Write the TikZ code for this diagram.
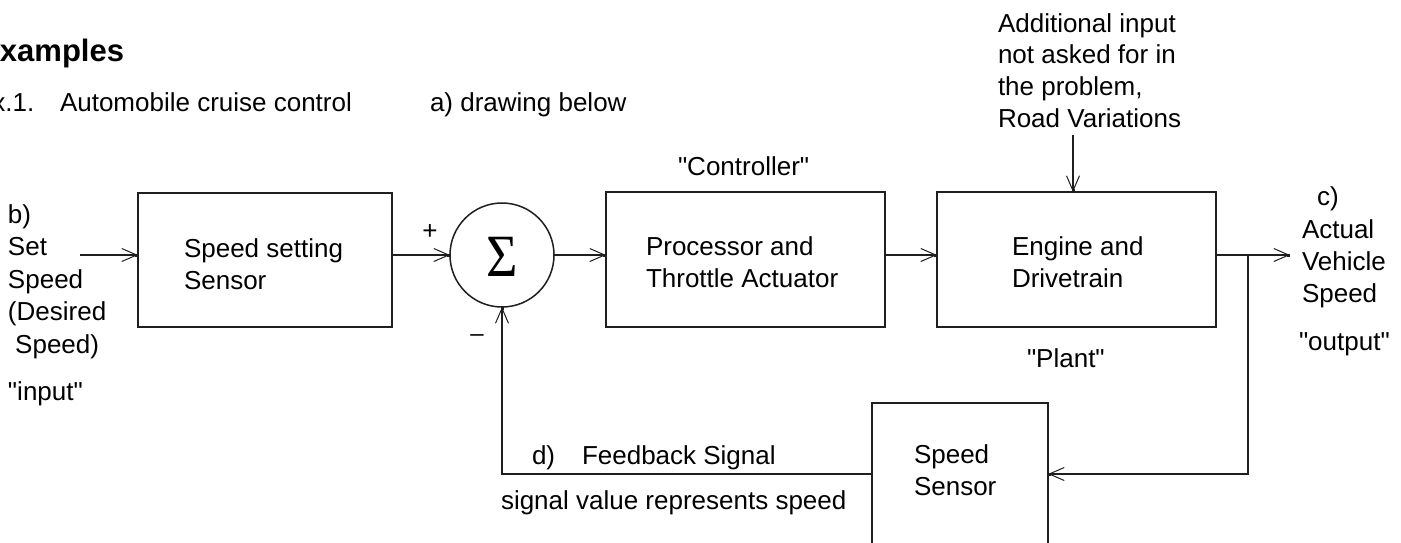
\documentclass[tikz,border=0pt]{standalone}
\usepackage{fontspec}
\setmainfont{Liberation Sans}[Ligatures=TeXOff]
\newfontfamily\sigfont{Liberation Serif}
\usetikzlibrary{arrows.meta}
\newcommand{\mlines}[1]{\begin{tabular}[t]{@{}l@{}}#1\end{tabular}}
\newcommand{\qq}{\symbol{"22}}
\begin{document}
\begin{tikzpicture}[x=1pt,y=-1pt,
  every node/.style={inner sep=0pt,outer sep=0pt},
  txt/.style={anchor=base west,font=\fontsize{26}{32.5}\selectfont},
  blockbox/.style={draw=black!88,line width=1.7pt,rectangle},
  conn/.style={draw=black!88,line width=1.5pt,
    -{Straight Barb[length=15pt,width=13pt,line width=1pt,sep=-3pt]Square[length=3pt,width=3pt]}},
  plain/.style={draw=black!88,line width=1.5pt}]
\useasboundingbox (0,0) rectangle (1401,542);
\clip (0,0) rectangle (1401,542);
\fill[white] (0,0) rectangle (1401,542);

% headings
\node[anchor=base west,font=\fontsize{31}{36}\selectfont\bfseries] (head) at (-20.7,61) {Examples};
\node[txt] (exn) at (-25,111) {Ex.1.};
\node[txt] (extitle) at (60,111) {Automobile cruise control};
\node[txt] (parta) at (430,111) {a) drawing below};

% blocks
\node[blockbox,minimum width=254pt,minimum height=134pt] (b1) at (265,260) {};
\node[circle,draw=black!88,line width=1.5pt,minimum size=104pt] (sum) at (502,255) {};
\node[blockbox,minimum width=279pt,minimum height=135pt] (b2) at (745.5,259.5) {};
\node[blockbox,minimum width=279pt,minimum height=135pt] (b3) at (1076.5,259.5) {};
\node[blockbox,minimum width=176pt,minimum height=180pt] (b4) at (960,493) {};

% block texts
\node[txt] (t1) at (184,257) {\mlines{Speed setting\\Sensor}};
\node[txt] (t2) at (646,255) {\mlines{Processor and\\Throttle Actuator}};
\node[txt] (t3) at (1012,255) {\mlines{Engine and\\Drivetrain}};
\node[txt] (t4) at (914,463) {\mlines{Speed\\Sensor}};
\node[font=\fontsize{60}{60}\sigfont] (sig) at (502,257) {\scalebox{0.9}[1]{Σ}};

% labels
\node[txt] (lb) at (8,223) {\mlines{b)\\Set\\Speed\\(Desired\\\ Speed)}};
\node[txt] (linput) at (8,400) {\qq input\qq};
\node[txt] (lctrl) at (678,175) {\qq Controller\qq};
\node[txt] (lplant) at (1027,367) {\qq Plant\qq};
\node[txt] (lc) at (1317,205) {c)};
\node[anchor=base west,font=\fontsize{26}{32}\selectfont] (lout) at (1302,238) {\mlines{Actual\\Vehicle\\Speed}};
\node[txt] (loutq) at (1299,350) {\qq output\qq};
\node[anchor=base west,font=\fontsize{26}{31.7}\selectfont] (ldist) at (998,32) {\mlines{Additional input\\not asked for in\\the problem,\\Road Variations}};
\node[txt] (ld) at (532,464) {d)};
\node[txt] (lfb) at (582,464) {Feedback Signal};
\node[txt] (lsig) at (501,509) {signal value represents speed};
\node[font=\fontsize{26}{26}\selectfont] (plus) at (430,232) {+};
\node[font=\fontsize{24}{24}\selectfont] (minus) at (477,338) {\textendash};

% connectors
\coordinate (in) at (80,255);
\coordinate (out) at (1290,255);
\coordinate (br) at (1248,255);
\coordinate (fb) at (1248,474);
\coordinate (dist) at (1073,135);
\draw[conn] (in) -- (in -| b1.west);
\draw[conn] (b1.east |- sum.west) -- (sum.west);
\draw[conn] (sum.east) -- (sum.east -| b2.west);
\draw[conn] (b2.east |- sum.east) -- (b3.west |- sum.east);
\draw[conn] (b3.east |- sum.east) -- (out);
\draw[conn] (br) -- (fb) -- (fb -| b4.east);
\draw[conn] (b4.west |- fb) -- (sum.south |- fb) -- (sum.south);
\draw[conn] (dist) -- (dist |- b3.north);
\end{tikzpicture}
\end{document}
